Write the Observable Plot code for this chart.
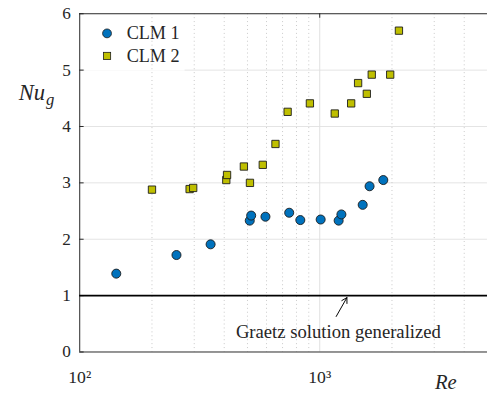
<!DOCTYPE html>
<html>
<head>
<meta charset="utf-8">
<script src="https://cdn.jsdelivr.net/npm/d3@7"></script>
<script src="https://cdn.jsdelivr.net/npm/@observablehq/plot@0.6"></script>
<style>
  html, body { margin: 0; padding: 0; background: #fff; overflow: hidden; }
  #chart { width: 487px; height: 401px; overflow: hidden; }
  svg { display: block; }
</style>
</head>
<body>
<div id="chart"></div>
<script>
// Data
const clm1Re = [142, 253, 351, 511, 518, 594, 746, 830, 1009, 1199, 1231, 1510, 1613, 1840];
const clm1Nu = [1.39, 1.72, 1.91, 2.33, 2.42, 2.40, 2.47, 2.34, 2.35, 2.33, 2.44, 2.61, 2.94, 3.05];
const clm2Re = [200, 287, 297, 408, 411, 483, 512, 579, 654, 735, 910, 1155, 1352, 1445, 1571, 1647, 1966, 2138];
const clm2Nu = [2.88, 2.89, 2.91, 3.05, 3.14, 3.29, 3.00, 3.32, 3.69, 4.26, 4.41, 4.23, 4.41, 4.77, 4.58, 4.92, 4.92, 5.70];
const graetzNu = 1;
const yTicks = [0, 1, 2, 3, 4, 5, 6];
const yGrid = [1, 2, 3, 4, 5];
const xMajor = [100, 1000];
const xMajorLabels = ["10²", "10³"];
const xMinor = [200, 300, 400, 500, 600, 700, 800, 900, 2000, 3000, 4000];
const seriesNames = ["CLM 1", "CLM 2"];
const annotation = "Graetz solution generalized";
const arrowFrom = {x: 1171, y: 0.63};
const arrowTo = {x: 1298, y: 0.965};
const annotationPos = {x: 1196, y: 0.36};

const clm1 = clm1Re.map((r, i) => ({Re: r, Nu: clm1Nu[i]}));
const clm2 = clm2Re.map((r, i) => ({Re: r, Nu: clm2Nu[i]}));

const FONT = "Liberation Serif";
const INK = "#262626";
const BLUE = "#0072BD";
const YEL = "#BFBF00";

function legendMark() {
  const g = d3.create("svg:g").attr("text-anchor", "start").attr("font-family", FONT);
  g.append("rect").attr("x", 86).attr("y", 17).attr("width", 102).attr("height", 55).attr("fill", "#fff");
  g.append("circle").attr("cx", 109).attr("cy", 34).attr("r", 4.5)
    .attr("fill", BLUE).attr("stroke", "#1a1a1a").attr("stroke-width", 0.8);
  g.append("rect").attr("x", 105.3).attr("y", 53.3).attr("width", 7.4).attr("height", 7.4)
    .attr("fill", YEL).attr("stroke", "#1a1a1a").attr("stroke-width", 0.8);
  g.append("text").attr("x", 129).attr("y", 40).text(seriesNames[0])
    .attr("font-size", 18.5).attr("fill", INK);
  g.append("text").attr("x", 129).attr("y", 63).text(seriesNames[1])
    .attr("font-size", 18.5).attr("fill", INK);
  return g.node();
}

function axisLabels() {
  const g = d3.create("svg:g").attr("text-anchor", "start").attr("font-family", FONT).attr("fill", INK);
  const nu = g.append("text").attr("x", 19).attr("y", 102).attr("font-size", 23).attr("font-style", "italic");
  nu.append("tspan").text("Nu");
  nu.append("tspan").attr("dy", 5).attr("dx", 1).attr("font-size", 17).text("g");
  g.append("text").attr("x", 443).attr("y", 396).attr("font-size", 21).attr("font-style", "italic").text("Re");
  return g.node();
}

const chart = Plot.plot({
  width: 496,
  height: 401,
  marginLeft: 80.7,
  marginRight: 0,
  marginTop: 13.5,
  marginBottom: 43,
  x: {type: "log", domain: [100, 5000], axis: null},
  y: {domain: [0, 6], axis: null},
  marks: [
    Plot.ruleY(yGrid, {stroke: "#e3e3e3", strokeWidth: 1}),
    legendMark,
    Plot.ruleX(xMinor, {stroke: "#c8c8c8", strokeWidth: 1, strokeDasharray: "1,3"}),
    Plot.ruleX([1000], {stroke: "#e0e0e0", strokeWidth: 1}),
    Plot.ruleX([100], {stroke: INK, strokeWidth: 1}),
    Plot.ruleY([6], {stroke: INK, strokeWidth: 1}),
    Plot.ruleY([0], {stroke: INK, strokeWidth: 1}),
    Plot.ruleY(yTicks, {x1: 100, x2: 104.3, stroke: INK}),
    Plot.ruleX([1000], {y1: 6, y2: 5.92, stroke: INK}),
    Plot.ruleY([graetzNu], {stroke: "#000", strokeWidth: 2}),
    Plot.dot(clm2, {x: "Re", y: "Nu", symbol: "square", r: 4.2, fill: YEL, stroke: "#1a1a1a", strokeWidth: 0.9}),
    Plot.dot(clm1, {x: "Re", y: "Nu", symbol: "circle", r: 4.6, fill: BLUE, stroke: "#1a1a1a", strokeWidth: 0.9}),
    Plot.arrow([0], {x1: () => arrowFrom.x, y1: () => arrowFrom.y, x2: () => arrowTo.x, y2: () => arrowTo.y,
      stroke: "#000", strokeWidth: 1, headLength: 9}),
    Plot.text([annotation], {x: annotationPos.x, y: annotationPos.y, text: d => d,
      fontFamily: FONT, fontSize: 19, fill: INK, textAnchor: "middle"}),
    Plot.text(yTicks, {x: 100, y: d => d, text: d => String(d), dx: -9, textAnchor: "end",
      fontFamily: FONT, fontSize: 17.5, fill: INK}),
    Plot.text(xMajor, {x: d => d, y: 0, text: (d, i) => xMajorLabels[i], dy: 26,
      fontFamily: FONT, fontSize: 18, fill: INK}),
    axisLabels
  ]
});

document.getElementById("chart").appendChild(chart);
</script>
</body>
</html>
